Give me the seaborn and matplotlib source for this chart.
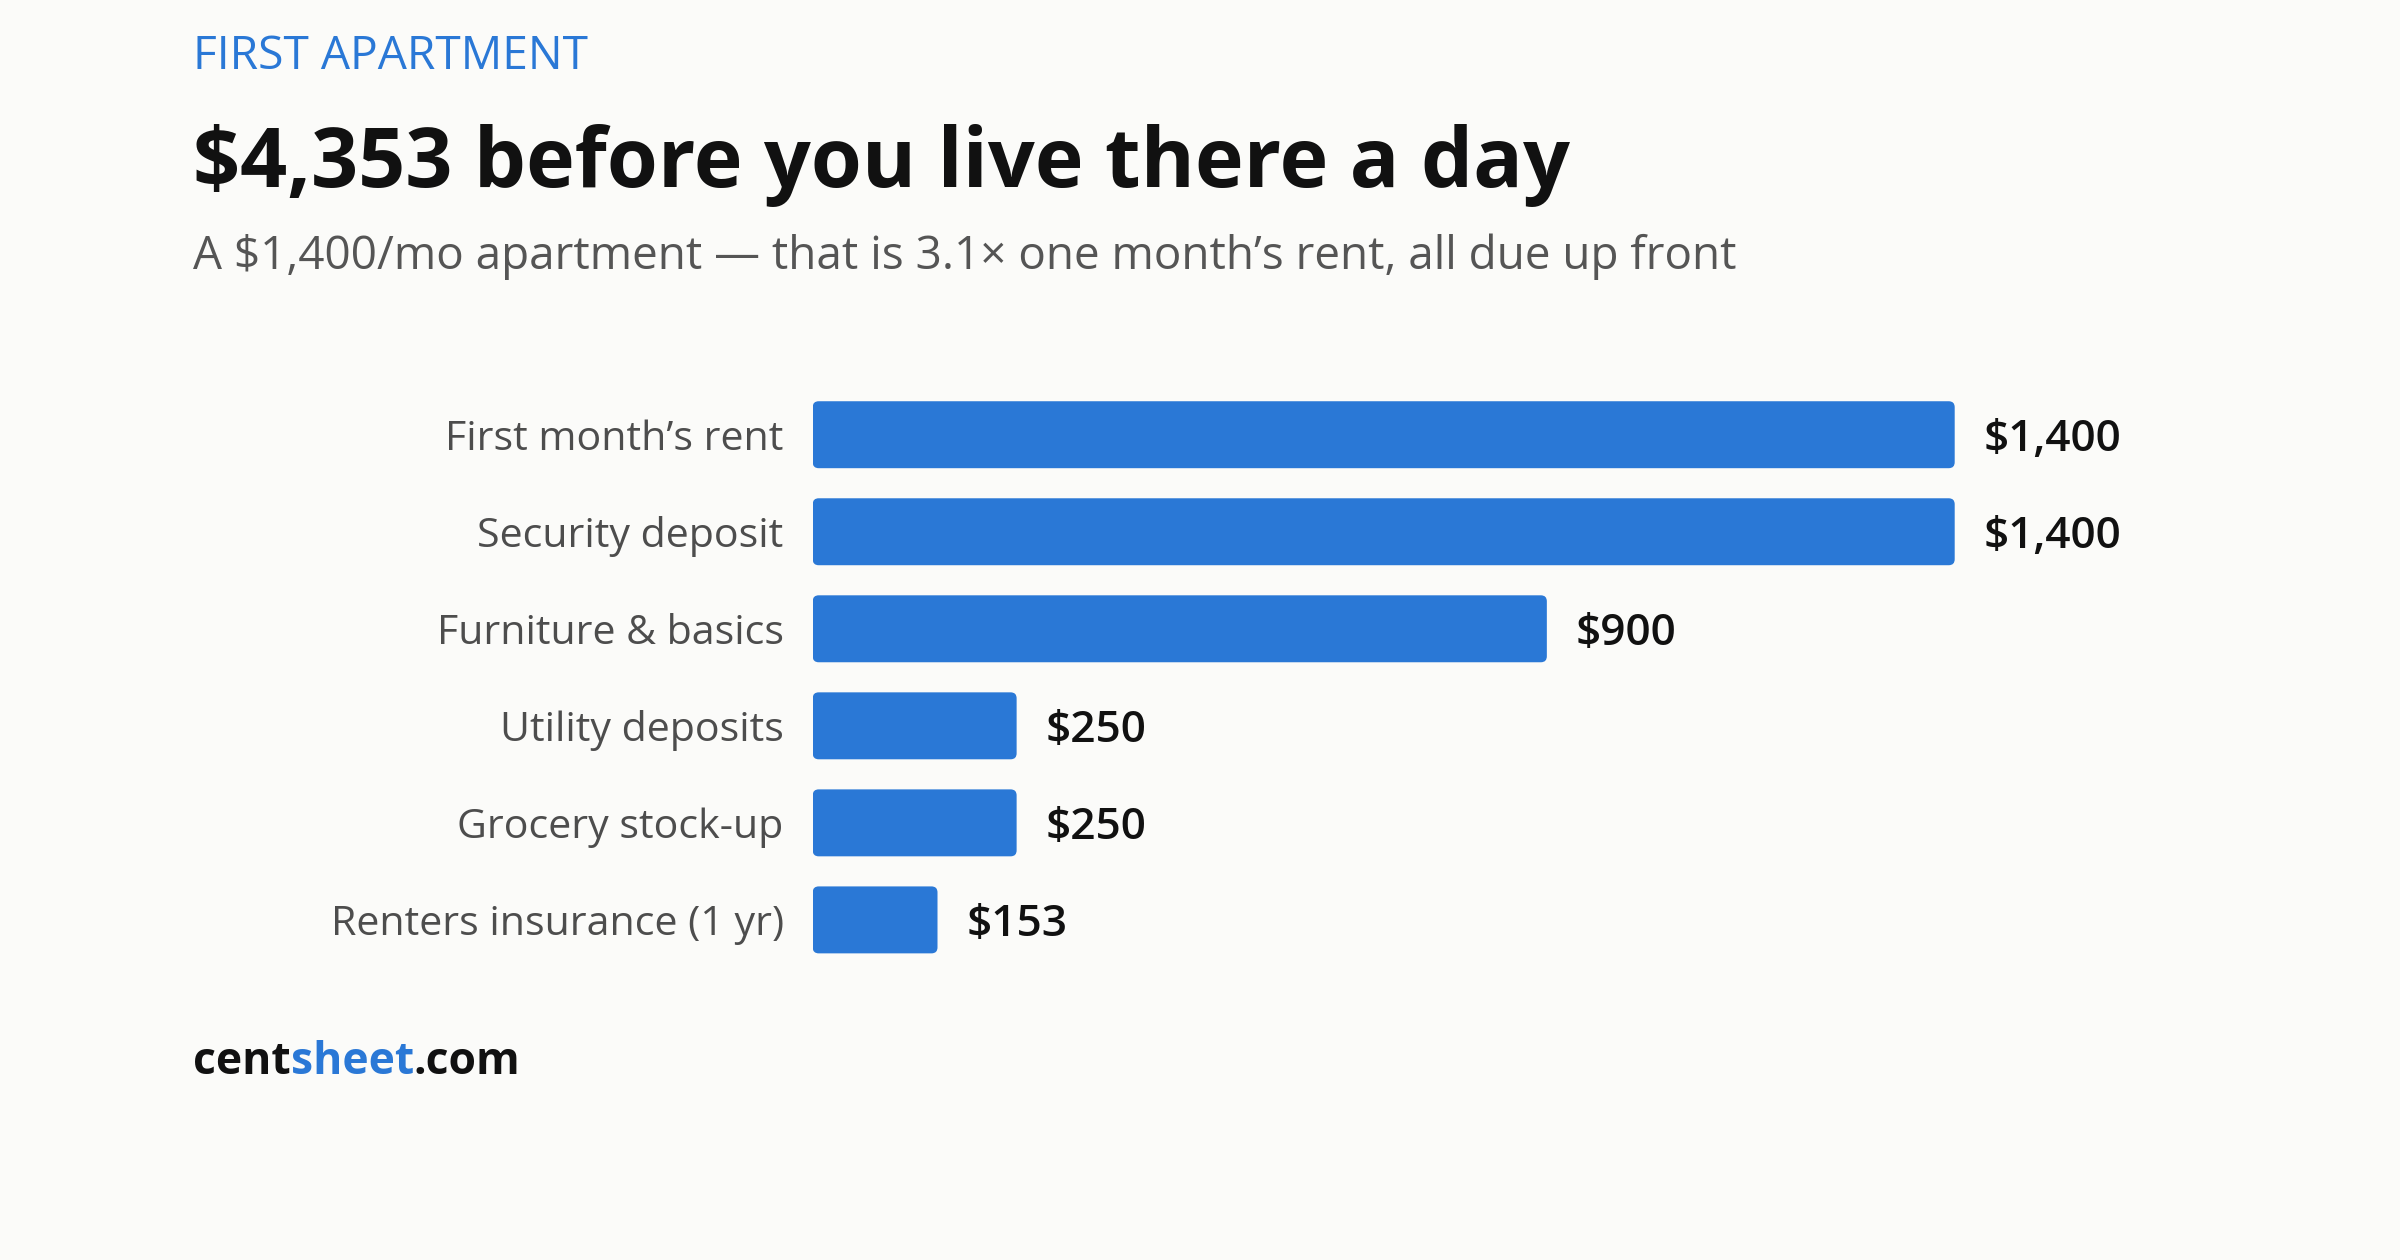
import matplotlib
matplotlib.use("Agg")
import matplotlib.pyplot as plt
import seaborn as sns
import pandas as pd
from matplotlib.patches import FancyBboxPatch

categories = ["First month\u2019s rent", "Security deposit", "Furniture & basics",
              "Utility deposits", "Grocery stock-up", "Renters insurance (1 yr)"]
values = [1400, 1400, 900, 250, 250, 153]
value_labels = ["$1,400", "$1,400", "$900", "$250", "$250", "$153"]

kicker = "FIRST APARTMENT"
title = "$4,353 before you live there a day"
subtitle = "A $1,400/mo apartment \u2014 that is 3.1\u00d7 one month\u2019s rent, all due up front"

BLUE = "#2A78D6"
BG = "#FBFBF9"

sns.set_theme(style="white")
plt.rcParams["font.family"] = ["Open Sans", "DejaVu Sans"]

df = pd.DataFrame({"category": categories, "value": values})

W, H, DPI = 2400, 1260, 200
fig = plt.figure(figsize=(W / DPI, H / DPI), dpi=DPI, facecolor=BG)
ax = fig.add_axes([812.7 / W, 1 - 968.4 / H, 1142 / W, 582.2 / H])
ax.set_facecolor(BG)

sns.barplot(data=df, x="value", y="category", color=BLUE, saturation=1,
            width=0.69, ax=ax, orient="h")
ax.set_xlim(0, 1400)
ax.set_ylim(5.5, -0.5)

# aspect for rounding corners
(x0, y0), (x1, y1) = ax.transData.transform([(0, 0), (1, 1)])
px_per_x = abs(x1 - x0)
px_per_y = abs(y1 - y0)
r_px = 6.0
for p in list(ax.patches):
    bx, by = p.get_x(), p.get_y()
    bw, bh = p.get_width(), p.get_height()
    p.set_visible(False)
    fb = FancyBboxPatch((bx, by), bw, bh,
                        boxstyle=f"round,pad=0,rounding_size={r_px / px_per_x}",
                        mutation_aspect=px_per_x / px_per_y,
                        facecolor=BLUE, edgecolor="none", zorder=3)
    ax.add_patch(fb)

for i, (v, lab) in enumerate(zip(values, value_labels)):
    ax.annotate(lab, xy=(v, i), xytext=(29 * 72 / DPI, 0), textcoords="offset points",
                ha="left", va="center_baseline", fontsize=15.9, fontweight="semibold",
                color="#111111")

ax.set_xlabel("")
ax.set_ylabel("")
ax.set_xticks([])
ax.tick_params(axis="y", length=0, pad=29 * 72 / DPI, labelsize=14.8, labelcolor="#4d4d4d")
for s in ax.spines.values():
    s.set_visible(False)

fig.text(193 / W, 1 - 68.9 / H, kicker, fontsize=16.6, fontweight="medium", color=BLUE,
         ha="left", va="baseline")
fig.text(193 / W, 1 - 186.7 / H, title, fontsize=29.7, fontweight="bold", color="#111111",
         ha="left", va="baseline")
fig.text(193 / W, 1 - 269.4 / H, subtitle, fontsize=16.5, color="#555555",
         ha="left", va="baseline")

t1 = fig.text(193 / W, 1 - 1074.5 / H, "cent", fontsize=16, fontweight="bold",
              color="#111111", ha="left", va="baseline")
fig.canvas.draw()
r = fig.canvas.get_renderer()
bb = t1.get_window_extent(r)
t2 = fig.text(bb.x1 / W, 1 - 1074.5 / H, "sheet", fontsize=16, fontweight="bold",
              color=BLUE, ha="left", va="baseline")
bb2 = t2.get_window_extent(r)
fig.text(bb2.x1 / W, 1 - 1074.5 / H, ".com", fontsize=16, fontweight="bold",
         color="#111111", ha="left", va="baseline")

fig.savefig("out.png", dpi=DPI, facecolor=BG)
